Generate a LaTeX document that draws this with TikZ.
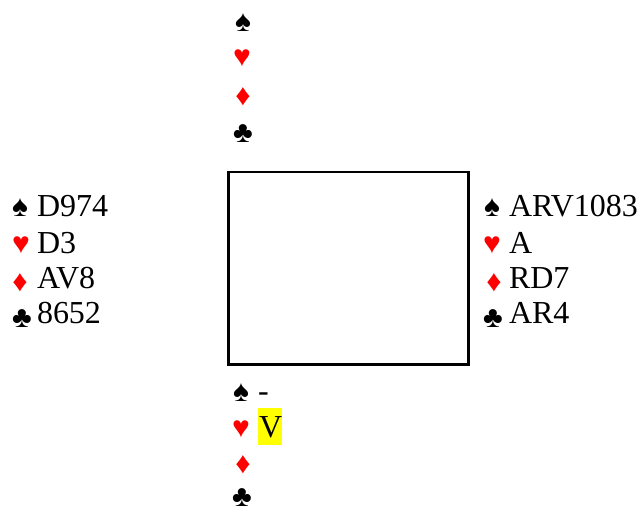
\documentclass[tikz,border=0pt]{standalone}
\usepackage{fontspec}
\setmainfont{Liberation Serif}
\definecolor{suitred}{RGB}{255,0,0}
\definecolor{hilite}{RGB}{255,255,0}
\tikzset{
  card/.style={anchor=base west, inner sep=0pt, outer sep=0pt, font=\fontsize{32}{36}\selectfont},
  suitb/.style={anchor=base, inner sep=0pt, outer sep=0pt, font=\fontsize{30}{32}\selectfont, text=black},
  suitr/.style={suitb, text=suitred},
  table/.style={draw=black, line width=2.5pt}
}
\begin{document}
\begin{tikzpicture}[x=1pt,y=-1pt]
\useasboundingbox (0,0) rectangle (643,508);
% table
\node[table, minimum width=240pt, minimum height=192pt, inner sep=0pt, anchor=north west] (tbl) at (227,171) {};
% North
\node[suitb] (ns) at (243,32) {♠};
\node[suitr] (nh) at (242,67) {♥};
\node[suitr] (nd) at (243,106) {♦};
\node[suitb] (nc) at (243,143) {♣};
% West
\node[suitb] (ws) at (20,217) {♠};
\node[card] (wsc) at (37,217) {D974};
\node[suitr] (wh) at (21,253) {♥};
\node[card] (whc) at (37,253) {D3};
\node[suitr] (wd) at (20,291) {♦};
\node[card] (wdc) at (37,288) {AV8};
\node[suitb] (wc) at (22,327) {♣};
\node[card] (wcc) at (37,323) {8652};
% East
\node[suitb] (es) at (492,217) {♠};
\node[card] (esc) at (509,217) {ARV1083};
\node[suitr] (eh) at (492,253) {♥};
\node[card] (ehc) at (509,253) {A};
\node[suitr] (ed) at (494,291) {♦};
\node[card] (edc) at (509,288) {RD7};
\node[suitb] (ec) at (493,327) {♣};
\node[card] (ecc) at (509,323) {AR4};
% South
\node[suitb] (ss) at (241,401) {♠};
\node[card] (ssc) at (258,401) {-};
\node[suitr] (sh) at (241,437) {♥};
\fill[hilite] (258,408) rectangle (282,445);
\node[card] (shc) at (259,437) {V};
\node[suitr] (sd) at (243,473) {♦};
\node[suitb] (sc) at (242,506) {♣};
\end{tikzpicture}
\end{document}
